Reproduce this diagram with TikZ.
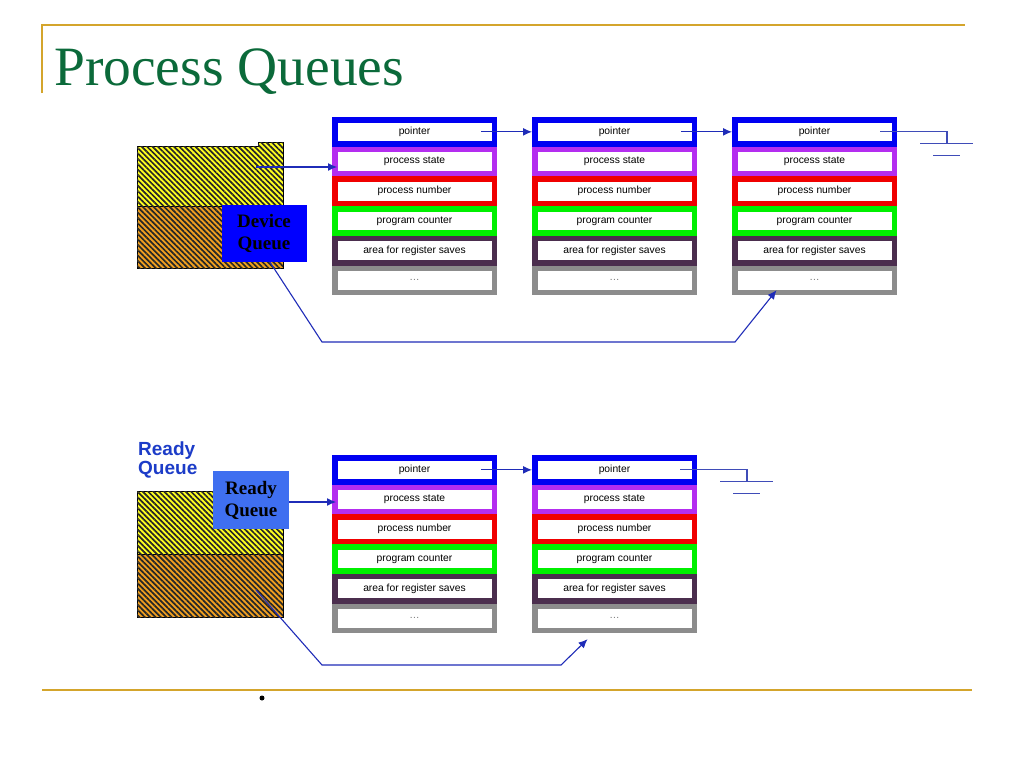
\documentclass[tikz,border=0pt]{standalone}
\usepackage{fontspec}
\setmainfont{Liberation Serif}
\newfontfamily\pcbfont{Liberation Sans}
\usepackage{tikz}
\usetikzlibrary{arrows.meta,patterns.meta}
\definecolor{gold}{HTML}{D4A52C}
\definecolor{titlegreen}{HTML}{0B6A3A}
\definecolor{pcbblue}{HTML}{0000F2}
\definecolor{pcbviolet}{HTML}{B42DF0}
\definecolor{pcbred}{HTML}{F00000}
\definecolor{pcbgreen}{HTML}{00F000}
\definecolor{pcbplum}{HTML}{4B2E4E}
\definecolor{pcbgray}{HTML}{8C8C8C}
\definecolor{linkblue}{HTML}{1F2CB8}
\definecolor{gndblue}{HTML}{3F4CB8}
\definecolor{devblue}{HTML}{0000FF}
\definecolor{readyblue}{HTML}{3F6FF0}
\definecolor{labelblue}{HTML}{1C3CC8}
\definecolor{qyellow}{HTML}{FFFF20}
\definecolor{qorange}{HTML}{F0A020}
\tikzset{
  rule/.style={draw=gold, line width=2pt},
  row/.style={rectangle, line width=5.5pt, fill=white, minimum width=159.5pt,
    minimum height=24.2pt, inner sep=0pt, font=\pcbfont\fontsize{10.3}{11}\selectfont},
  link/.style={draw=linkblue, line width=1.1pt, -{Latex[length=9pt,width=8pt]}},
  gnd/.style={draw=gndblue, line width=1.1pt},
  hatch/.style={draw=black, line width=0.8pt,
    postaction={pattern={Lines[angle=-45,distance=3.8pt,line width=1.7pt]}, pattern color=black!85}},
  qbox/.style={rectangle, inner sep=0pt, align=center, font=\bfseries\fontsize{19}{22}\selectfont},
}
\begin{document}
\begin{tikzpicture}[x=1pt, y=-1pt]
  \useasboundingbox (0,0) rectangle (1024,768);
  \fill[white] (0,0) rectangle (1024,768);
  % slide frame
  \draw[rule] (42,93) -- (42,25) -- (965,25);
  \draw[rule] (42,690) -- (972,690);
  \node[text=titlegreen, anchor=base west, inner sep=0pt, font=\fontsize{55.5}{60}\selectfont]
    (title) at (54,85) {Process Queues};
  \fill (262,698) circle (2.5);
  % queue header blocks
  \path[hatch, fill=qyellow] (137,146) -- (258,146) -- (258,142) -- (283,142) -- (283,206) -- (137,206) -- cycle;
  \path[hatch, fill=qorange] (137,206) rectangle (283,268);
  \path[hatch, fill=qyellow] (137,491) rectangle (283,554);
  \path[hatch, fill=qorange] (137,554) rectangle (283,617);
  \node[qbox, fill=devblue, minimum width=85pt, minimum height=57pt] (devq) at (264,233.5) {Device\\Queue};
  \node[qbox, fill=readyblue, minimum width=76pt, minimum height=58pt] (readyq) at (251,500) {Ready\\Queue};
  \node[anchor=north west, inner sep=0pt, align=left, text=labelblue,
    font=\pcbfont\bfseries\fontsize{19}{17}\selectfont] (readylbl) at (138,442) {Ready\\Queue};
  \coordinate (dsrc) at (256,167);
  \coordinate (rsrc) at (256,590);
  % process control blocks
  \foreach \c/\x/\y in {d1/332/117, d2/532/117, d3/732/117, r1/332/455, r2/532/455} {
    \foreach \r/\col/\txt [count=\i] in {ptr/pcbblue/pointer, state/pcbviolet/process state,
        num/pcbred/process number, pc/pcbgreen/program counter,
        regs/pcbplum/area for register saves, more/pcbgray/{\color{black!55}\ldots}} {
      \node[row, draw=\col] (\c\r) at (\x+82.5, \y+\i*29.7-14.85) {\txt};
    }
  }
  % links
  \draw[link, shorten >=-5pt] (dsrc) -- (dsrc -| d1state.west);
  \draw[link] ([xshift=-16pt]d1ptr.east) -- (d2ptr.west);
  \draw[link] ([xshift=-16pt]d2ptr.east) -- (d3ptr.west);
  \draw[link] ([xshift=6pt]devq.south) -- (322,342) -- (735,342) -- ([xshift=-38pt,yshift=5pt]d3more.south);
  \draw[link, shorten >=-4pt] ([yshift=-2pt]readyq.east) -- ([yshift=-2pt]readyq.east -| r1state.west);
  \draw[link] ([xshift=-16pt]r1ptr.east) -- (r2ptr.west);
  \draw[link] (rsrc) -- (322,665) -- (561,665) -- ([xshift=-27pt,yshift=-6pt]r2more.south);
  % null ends
  \foreach \c in {d3, r2} {
    \draw[gnd] ([xshift=-17pt]\c ptr.east) -| ++(67,12) coordinate (\c gnd);
    \draw[gnd] ([xshift=-27pt]\c gnd) -- ([xshift=26pt]\c gnd);
    \draw[gnd] ([shift={(-14,12)}]\c gnd) -- ([shift={(13,12)}]\c gnd);
  }
\end{tikzpicture}
\end{document}
